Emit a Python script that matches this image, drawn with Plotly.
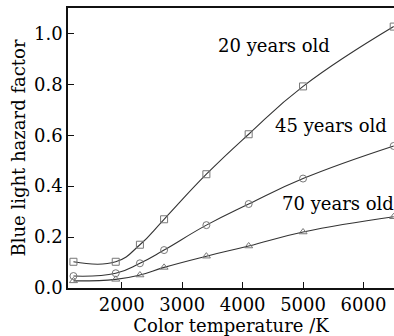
import plotly.graph_objects as go

temps = [1200, 1900, 2300, 2700, 3400, 4100, 5000, 6500]
age20 = [0.103, 0.103, 0.170, 0.270, 0.447, 0.604, 0.792, 1.027]
age45 = [0.047, 0.058, 0.097, 0.149, 0.247, 0.330, 0.430, 0.558]
age70 = [0.028, 0.034, 0.051, 0.081, 0.125, 0.165, 0.220, 0.280]
series_labels = ["20 years old", "45 years old", "70 years old"]
label_x = [4520, 5470, 5570]
label_y = [0.953, 0.639, 0.333]
xticks = [2000, 3000, 4000, 5000, 6000]
yticks = [0.0, 0.2, 0.4, 0.6, 0.8, 1.0]

FONT = "DejaVu Serif"
LINE = "#333333"

fig = go.Figure()
for vals, sym in zip([age20, age45, age70], ["square-open", "circle-open", "triangle-up-open"]):
    fig.add_trace(go.Scatter(
        x=temps, y=vals, mode="lines+markers",
        line=dict(color=LINE, width=1.1, shape="spline", smoothing=1.3),
        marker=dict(symbol=sym, size=7, color="#777777", line=dict(width=1)),
        showlegend=False, cliponaxis=False,
    ))

for t, x, y in zip(series_labels, label_x, label_y):
    fig.add_annotation(x=x, y=y, text=t, showarrow=False,
                       font=dict(family=FONT, size=18, color="#000"))

fig.update_layout(
    width=394, height=336,
    margin=dict(l=68, r=0, t=8, b=48),
    plot_bgcolor="white", paper_bgcolor="white",
    font=dict(family=FONT, size=18, color="#000"),
)
fig.update_xaxes(
    range=[1110, 6505], tickvals=xticks, ticks="inside", ticklen=6,
    tickcolor="#111", showline=True, linecolor="#111", linewidth=1.5,
    mirror=True, showgrid=False, zeroline=False,
    title=dict(text="Color temperature /K", standoff=0, font=dict(size=18)),
)
fig.update_yaxes(
    range=[0, 1.1], tickvals=yticks, tickformat=".1f", ticks="inside", ticklen=6,
    tickcolor="#111", showline=True, linecolor="#111", linewidth=1.5,
    showgrid=False, zeroline=False,
    title=dict(text="Blue light hazard factor", standoff=4, font=dict(size=18)),
)
fig.write_html("out.html")
